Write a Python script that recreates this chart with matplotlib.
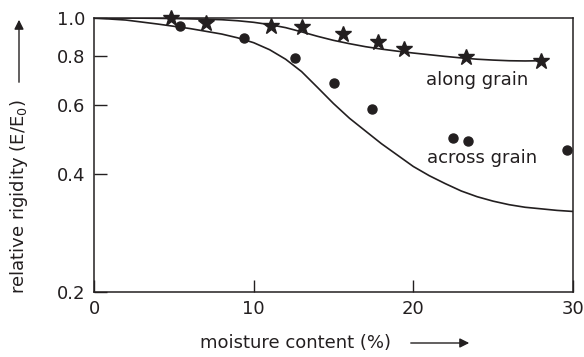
import numpy as np
import matplotlib.pyplot as plt
from matplotlib.ticker import NullLocator, FixedLocator, FixedFormatter

plt.rcParams['font.family'] = ['DejaVu Sans']
ink = '#231f20'

# measured points
star_x = [4.8, 7.0, 11.1, 13.0, 15.6, 17.8, 19.4, 23.3, 28.0]
star_y = [1.0, 0.97, 0.956, 0.947, 0.91, 0.867, 0.834, 0.794, 0.777]
dot_x = [5.4, 9.4, 12.6, 15.0, 17.4, 22.5, 23.4, 29.6]
dot_y = [0.954, 0.887, 0.789, 0.681, 0.586, 0.493, 0.486, 0.46]

# fitted curves
along_x = [0, 2, 4, 6, 8, 9, 10, 11, 12, 13, 14, 15, 16, 17, 18, 19, 20, 21, 22, 23, 24, 25, 26, 27, 28]
along_y = [1.0, 1.0, 0.998, 0.995, 0.99, 0.984, 0.975, 0.962, 0.945, 0.922, 0.898, 0.877, 0.86, 0.845, 0.833, 0.823, 0.814, 0.806, 0.798, 0.791, 0.785, 0.781, 0.778, 0.777, 0.778]
across_x = [0, 2, 4, 6, 8, 9, 10, 11, 12, 13, 14, 15, 16, 17, 18, 19, 20, 21, 22, 23, 24, 25, 26, 27, 28, 29, 30]
across_y = [1.0, 0.988, 0.965, 0.94, 0.91, 0.89, 0.865, 0.83, 0.785, 0.73, 0.665, 0.605, 0.555, 0.515, 0.478, 0.447, 0.418, 0.396, 0.378, 0.362, 0.35, 0.341, 0.334, 0.329, 0.326, 0.323, 0.321]

yticks = [0.2, 0.4, 0.6, 0.8, 1.0]
ylabels = ['0.2', '0.4', '0.6', '0.8', '1.0']
xticks = [0, 10, 20, 30]

fig = plt.figure(figsize=(5.84, 3.57), dpi=100)
ax = fig.add_axes([94/584, 1-292/357, (573-94)/584, (292-18)/357])

ax.plot(along_x, along_y, color=ink, lw=1.2)
ax.plot(across_x, across_y, color=ink, lw=1.2)
ax.plot(star_x, star_y, ls='none', marker='*', ms=12, color=ink, clip_on=False)
ax.plot(dot_x, dot_y, ls='none', marker='o', ms=6.5, color=ink, clip_on=False)

ax.set_yscale('log')
ax.set_xlim(0, 30)
ax.set_ylim(0.2, 1.0)
ax.yaxis.set_major_locator(FixedLocator(yticks))
ax.yaxis.set_major_formatter(FixedFormatter(ylabels))
ax.yaxis.set_minor_locator(NullLocator())
ax.set_xticks(xticks)
ax.tick_params(direction='in', length=9, width=1, color=ink, labelsize=13,
               labelcolor=ink, pad=6)
for s in ax.spines.values():
    s.set_color(ink)
    s.set_linewidth(1.1)

ax.text(24.0, 0.695, 'along grain', ha='center', va='center', fontsize=13, color=ink)
ax.text(24.3, 0.44, 'across grain', ha='center', va='center', fontsize=13, color=ink)

# axis titles with arrows
fig.text(296/584, 1-343/357, 'moisture content (%)', ha='center', va='center',
         fontsize=13, color=ink)
fig.text(19/584, 1-197/357, 'relative rigidity (E/E$_0$)', ha='center', va='center',
         rotation=90, fontsize=13, color=ink)
ax.annotate('', xy=(472/584, 1-343/357), xytext=(408/584, 1-343/357),
            xycoords='figure fraction', annotation_clip=False,
            arrowprops=dict(arrowstyle='-|>', color=ink, lw=1, mutation_scale=14))
ax.annotate('', xy=(19/584, 1-17/357), xytext=(19/584, 1-85/357),
            xycoords='figure fraction', annotation_clip=False,
            arrowprops=dict(arrowstyle='-|>', color=ink, lw=1, mutation_scale=14))

fig.savefig('out.png', dpi=100)
